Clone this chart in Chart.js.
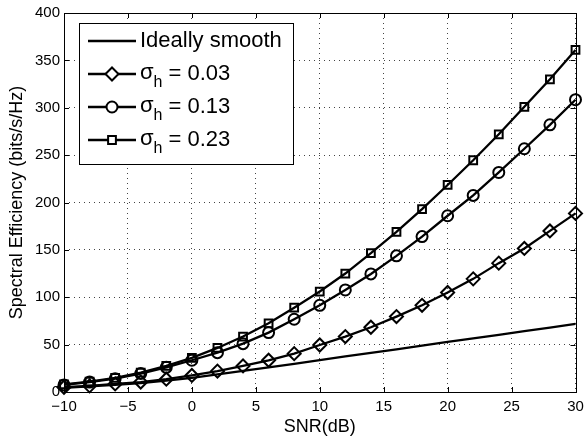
<!DOCTYPE html>
<html>
<head>
<meta charset="utf-8">
<script src="https://cdn.jsdelivr.net/npm/chart.js@4.4.1/dist/chart.umd.min.js"></script>
<style>
  html, body { margin: 0; padding: 0; background: #fff; }
  #wrap { width: 584px; height: 440px; }
</style>
</head>
<body>
<div id="wrap"><canvas id="chart" width="584" height="440"></canvas></div>
<script>
// SNR points (dB)
const snr = [-10, -8, -6, -4, -2, 0, 2, 4, 6, 8, 10, 12, 14, 16, 18, 20, 22, 24, 26, 28, 30];

// spectral efficiency
const ideal = [4.5, 6, 7.5, 9.5, 12, 15, 18.5, 22.3, 26, 29.8, 33.7, 37.5, 41.3, 45.1, 49, 52.8, 56.6, 60.4, 64.3, 68, 71.8];
const sigma003 = [5, 6.5, 8.5, 10.5, 13.5, 17.5, 22, 27.5, 33.5, 40.5, 49.6, 58.5, 68.3, 79.6, 91.5, 105, 119.4, 136, 151.5, 170, 188.5];
const sigma013 = [7.5, 10.5, 14, 19.5, 26, 33.5, 41.5, 51, 62.7, 76.8, 91.5, 107.7, 124.6, 143.7, 164, 186, 207.5, 231.7, 256.7, 282, 308.5];
const sigma023 = [8, 11, 15, 20.5, 27.5, 36, 46.5, 58.5, 72.5, 89, 106, 125, 146.5, 169, 193, 218.5, 244.6, 272, 301, 330, 361];

const xTicks = [-10, -5, 0, 5, 10, 15, 20, 25, 30];
const yTicks = [0, 50, 100, 150, 200, 250, 300, 350, 400];

const seriesNames = ['Ideally smooth', '0.03', '0.13', '0.23'];

const FONT = '"Liberation Sans", Arial, Helvetica, sans-serif';

function toPoints(ys) {
    return snr.map((x, i) => ({ x: x, y: ys[i] }));
}

function makeSet(label, ys, style, radius) {
    return {
        label: label,
        data: toPoints(ys),
        borderColor: '#000',
        borderWidth: 2.3,
        pointStyle: style || false,
        pointRadius: style ? radius : 0,
        pointBorderWidth: 2,
        pointBorderColor: '#000',
        pointBackgroundColor: 'rgba(0,0,0,0)',
        tension: 0,
        clip: false
    };
}

// box around the axes plus inward tick marks, like MATLAB
const boxPlugin = {
    id: 'boxPlugin',
    afterDatasetsDraw(chart) {
        const ctx = chart.ctx;
        const a = chart.chartArea;
        const xs = chart.scales.x, ys = chart.scales.y;
        ctx.save();
        ctx.strokeStyle = '#000';
        ctx.lineWidth = 1;
        ctx.beginPath();
        xTicks.forEach(v => {
            const px = Math.round(xs.getPixelForValue(v)) + 0.5;
            ctx.moveTo(px, a.bottom); ctx.lineTo(px, a.bottom - 5);
            ctx.moveTo(px, a.top); ctx.lineTo(px, a.top + 5);
        });
        yTicks.forEach(v => {
            const py = Math.round(ys.getPixelForValue(v)) + 0.5;
            ctx.moveTo(a.left, py); ctx.lineTo(a.left + 5, py);
            ctx.moveTo(a.right, py); ctx.lineTo(a.right - 5, py);
        });
        ctx.stroke();
        ctx.strokeRect(Math.round(a.left) + 0.5, Math.round(a.top) + 0.5,
            Math.round(a.right - a.left), Math.round(a.bottom - a.top));
        ctx.restore();
    }
};

// legend box drawn in the upper-left corner
const legendPlugin = {
    id: 'legendPlugin',
    afterDraw(chart) {
        const ctx = chart.ctx;
        const box = { x: 79.5, y: 23.5, w: 214, h: 141 };
        ctx.save();
        ctx.fillStyle = '#fff';
        ctx.fillRect(box.x, box.y, box.w, box.h);
        ctx.strokeStyle = '#000';
        ctx.lineWidth = 1;
        ctx.strokeRect(box.x, box.y, box.w, box.h);

        const rows = [41, 74, 107, 140];
        chart.data.datasets.forEach((ds, i) => {
            const y = rows[i];
            ctx.strokeStyle = '#000';
            ctx.lineWidth = 2.3;
            ctx.beginPath();
            ctx.moveTo(88, y);
            ctx.lineTo(136, y);
            ctx.stroke();
            if (ds.pointStyle) {
                ctx.fillStyle = '#fff';
                ctx.strokeStyle = '#000';
                ctx.lineWidth = 2;
                Chart.helpers.drawPoint(ctx, {
                    pointStyle: ds.pointStyle,
                    radius: ds.pointRadius,
                    rotation: 0,
                    borderWidth: 2
                }, 112, y);
            }
            ctx.fillStyle = '#000';
            ctx.textBaseline = 'middle';
            ctx.textAlign = 'left';
            let tx = 140;
            if (i === 0) {
                ctx.font = '22px ' + FONT;
                ctx.fillText(seriesNames[0], tx, y);
            } else {
                ctx.font = '22px ' + FONT;
                ctx.fillText('\u03c3', tx, y - 1);
                tx += ctx.measureText('\u03c3').width;
                ctx.font = '16px ' + FONT;
                ctx.fillText('h', tx, y + 9);
                tx += ctx.measureText('h').width + 2;
                ctx.font = '22px ' + FONT;
                ctx.fillText('= ' + seriesNames[i], tx + 4, y);
            }
        });
        ctx.restore();
    }
};

const gridStyle = {
    color: '#444',
    lineWidth: 1,
    drawTicks: false
};

// in Chart.js v4 the grid line dash lives on the border options
const borderStyle = {
    display: false,
    dash: [1, 4]
};

new Chart(document.getElementById('chart').getContext('2d'), {
    type: 'line',
    data: {
        datasets: [
            makeSet('Ideally smooth', ideal, null, 0),
            makeSet('sigma 0.03', sigma003, 'rectRot', 6.5),
            makeSet('sigma 0.13', sigma013, 'circle', 5.5),
            makeSet('sigma 0.23', sigma023, 'rect', 5.5)
        ]
    },
    options: {
        responsive: false,
        animation: false,
        events: [],
        layout: { padding: { top: 13, right: 8, left: 0, bottom: 0 } },
        plugins: {
            legend: { display: false },
            tooltip: { enabled: false }
        },
        scales: {
            x: {
                type: 'linear',
                min: -10,
                max: 30,
                afterBuildTicks: s => { s.ticks = xTicks.map(v => ({ value: v })); },
                afterFit: s => { s.height = 48; s.paddingRight = 0; },
                grid: gridStyle,
                border: borderStyle,
                ticks: {
                    color: '#000',
                    padding: 6,
                    maxRotation: 0,
                    font: { family: FONT, size: 15 },
                    callback: v => String(v).replace('-', '\u2212')
                },
                title: {
                    display: true,
                    text: 'SNR(dB)',
                    color: '#000',
                    font: { family: FONT, size: 18 },
                    padding: { top: 0, bottom: 2 }
                }
            },
            y: {
                min: 0,
                max: 400,
                afterBuildTicks: s => { s.ticks = yTicks.map(v => ({ value: v })); },
                afterFit: s => { s.width = 64; },
                grid: gridStyle,
                border: borderStyle,
                ticks: {
                    color: '#000',
                    padding: 4,
                    font: { family: FONT, size: 15 }
                },
                title: {
                    display: true,
                    text: 'Spectral Efficiency (bits/s/Hz)',
                    color: '#000',
                    font: { family: FONT, size: 18 },
                    padding: { top: 6, bottom: 0 }
                }
            }
        }
    },
    plugins: [boxPlugin, legendPlugin]
});
</script>
</body>
</html>
